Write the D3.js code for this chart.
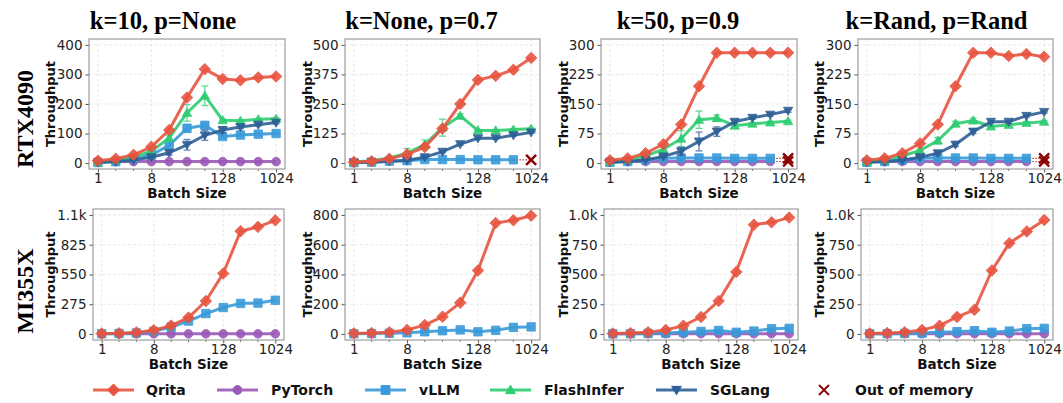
<!DOCTYPE html>
<html><head><meta charset="utf-8">
<script src="https://cdn.jsdelivr.net/npm/d3@7"></script>
<style>body{margin:0;background:#fff;} svg{display:block;}</style>
</head><body>
<svg id="chart" width="1063" height="403"></svg>
<script>
// ---------------- DATA ----------------
const batchSizes = [1, 2, 4, 8, 16, 32, 64, 128, 256, 512, 1024];
const xTickLabels = [1, 8, 128, 1024];
const panelTitles = ["k=10, p=None", "k=None, p=0.7", "k=50, p=0.9", "k=Rand, p=Rand"];
const rowLabels = ["RTX4090", "MI355X"];
const seriesNames = ["Qrita", "PyTorch", "vLLM", "FlashInfer", "SGLang"];
const oomLabel = "Out of memory";
const yTopTicksRTX = [400, 500, 300, 300];
const yTopTicksMI = [1100, 800, 1000, 1000];

// RTX4090 row (null = not run / out of memory)
const rtxQrita = [
  [8, 15, 28, 55, 112, 222, 318, 285, 280, 290, 293],
  [5, 8, 18, 37, 68, 146, 250, 352, 369, 395, 445],
  [7, 12, 25, 48, 98, 195, 280, 280, 280, 280, 280],
  [7, 12, 25, 50, 98, 195, 280, 280, 272, 277, 270]
];
const rtxPyTorch = [
  [5, 5, 5, 5, 5, 5, 5, 5, 5, 5, 5],
  null,
  [4, 4, 4, 4, 4, 4, 4, 4, 4, 4, null],
  [4, 4, 4, 4, 4, 4, 4, 4, 4, 4, null]
];
const rtxVLLM = [
  [2, 5, 15, 28, 60, 118, 128, 90, 95, 98, 100],
  [2, 4, 8, 10, 15, 15, 15, 14, 14, 14, null],
  [2, 4, 8, 12, 13, 13, 13, 12, 12, 12, null],
  [2, 4, 8, 12, 13, 13, 13, 12, 12, 12, null]
];
const rtxFlashInfer = [
  [3, 10, 20, 40, 85, 170, 228, 145, 143, 148, 150],
  [5, 10, 22, 42, 78, 150, 200, 138, 138, 142, 145],
  [3, 8, 18, 35, 62, 110, 114, 95, 100, 103, 106],
  [3, 8, 18, 32, 57, 100, 108, 93, 97, 102, 105]
];
const rtxSGLang = [
  [2, 5, 10, 20, 35, 62, 94, 112, 122, 130, 137],
  [2, 4, 8, 12, 25, 48, 80, 105, 105, 118, 130],
  [2, 4, 8, 17, 30, 55, 80, 105, 115, 123, 133],
  [2, 4, 7, 15, 25, 47, 80, 105, 105, 120, 130]
];
// error bar half-widths
const rtxVLLMErr = [
  [0, 0, 2, 4, 18, 12, 8, 5, 3, 3, 3],
  [0, 0, 0, 0, 1, 1, 1, 1, 1, 1, 0],
  [0, 0, 0, 1, 2, 2, 2, 2, 2, 2, 0],
  [0, 0, 0, 1, 2, 2, 2, 2, 2, 2, 0]
];
const rtxFlashInferErr = [
  [0, 0, 3, 5, 10, 28, 33, 5, 3, 3, 3],
  [0, 0, 2, 20, 20, 36, 8, 3, 3, 3, 3],
  [0, 0, 2, 8, 20, 22, 8, 3, 3, 3, 3],
  [0, 0, 2, 4, 8, 6, 6, 3, 3, 3, 3]
];
const rtxSGLangErr = [
  [0, 0, 1, 3, 8, 18, 17, 10, 5, 4, 4],
  [0, 0, 1, 2, 3, 4, 4, 4, 4, 4, 4],
  [0, 0, 1, 3, 10, 24, 12, 4, 4, 4, 4],
  [0, 0, 1, 2, 4, 5, 5, 3, 3, 3, 3]
];
const rtxOOM = [[], ["vLLM"], ["vLLM", "PyTorch"], ["vLLM", "PyTorch"]];

// MI355X row
const miQrita = [
  [5, 8, 15, 35, 78, 152, 305, 560, 950, 990, 1050],
  [5, 7, 12, 28, 60, 117, 211, 427, 746, 764, 795],
  [5, 8, 15, 35, 70, 143, 278, 522, 918, 938, 978],
  [5, 8, 15, 35, 70, 144, 203, 534, 763, 862, 958]
];
const miPyTorch = [
  [2, 2, 2, 2, 2, 2, 2, 2, 2, 2, 2],
  null,
  [3, 3, 3, 3, 3, 3, 3, 3, 3, 3, 3],
  [3, 3, 3, 3, 3, 3, 3, 3, 3, 3, 3]
];
const miVLLM = [
  [3, 5, 10, 25, 65, 120, 189, 245, 283, 286, 312],
  [2, 3, 5, 8, 15, 22, 28, 15, 25, 45, 48],
  [2, 3, 5, 8, 15, 22, 30, 15, 25, 45, 48],
  [2, 3, 5, 8, 15, 20, 28, 15, 25, 45, 48]
];

// ---------------- STYLE / LAYOUT ----------------
const colors = {
  Qrita: "#e8533f", PyTorch: "#9b59b6", vLLM: "#3a9ad9",
  FlashInfer: "#2ecc71", SGLang: "#2e5f96"
};
const oomColor = "#8b0000";
const drawOrder = ["PyTorch", "vLLM", "FlashInfer", "SGLang", "Qrita"];

const svg = d3.select("#chart");
const boxes = [
  [[89, 285], [345, 540], [601, 797], [858, 1053]],
  [[93, 284], [345, 540], [604, 798], [861, 1053]]
];
const rowTops = [39, 209];
const panelH = [130, 131];
const ylabelX = [50, 307, 563, 819];
const titleOffsets = [-24, -21, -21, -19];

function markerPath(name, s) {
  switch (name) {
    case "Qrita": { const d = s * 1.25; return `M0,${-d}L${d},0L0,${d}L${-d},0Z`; }
    case "PyTorch": return d3.symbol(d3.symbolCircle, Math.PI * s * s)();
    case "vLLM": return `M${-s},${-s}H${s}V${s}H${-s}Z`;
    case "FlashInfer": { const h = s * 1.1; return `M0,${-h}L${h},${h * 0.75}L${-h},${h * 0.75}Z`; }
    case "SGLang": { const h = s * 1.1; return `M0,${h}L${h},${-h * 0.75}L${-h},${-h * 0.75}Z`; }
  }
}
function xPath(s) { return `M${-s},${-s}L${s},${s}M${-s},${s}L${s},${-s}`; }

function fmtTick(v) {
  if (v >= 1000) return (v / 1000).toFixed(1) + "k";
  return String(v);
}

function drawPanel(row, col, seriesData, errData, oomList, yTop) {
  const [bl, br] = boxes[row][col];
  const panelW = br - bl;
  const y0 = rowTops[row], h = panelH[row];
  const g = svg.append("g").attr("transform", `translate(${bl},${y0})`);
  const x = d3.scaleLinear().domain([-0.5, 10.5]).range([0, panelW]);
  const bx = b => x(Math.log2(b));
  const y = d3.scaleLinear().domain([-0.05 * yTop, 1.05 * yTop]).range([h, 0]);
  const yTicks = d3.range(5).map(i => yTop * i / 4);

  // grid
  g.append("g").selectAll("line").data(yTicks).join("line")
    .attr("x1", 0).attr("x2", panelW).attr("y1", d => y(d)).attr("y2", d => y(d))
    .attr("stroke", "#e3e3e3").attr("stroke-width", 0.8).attr("stroke-dasharray", "3,2");
  g.append("g").selectAll("line").data(xTickLabels).join("line")
    .attr("y1", 0).attr("y2", h).attr("x1", d => bx(d)).attr("x2", d => bx(d))
    .attr("stroke", "#e3e3e3").attr("stroke-width", 0.8).attr("stroke-dasharray", "3,2");

  // axes
  const yAxis = d3.axisLeft(y).tickValues(yTicks).tickFormat(fmtTick).tickSize(3.5).tickPadding(3);
  const ya = g.append("g").call(yAxis);
  ya.select(".domain").remove();
  ya.selectAll("line").attr("stroke", "#555");
  ya.selectAll("text").attr("font-family", "DejaVu Sans").attr("font-size", 13.5).attr("fill", "#222");

  const xAxis = d3.axisBottom(x).tickValues(xTickLabels.map(Math.log2))
    .tickFormat(d => String(Math.pow(2, d))).tickSize(3.5).tickPadding(1);
  const xa = g.append("g").attr("transform", `translate(0,${h})`).call(xAxis);
  xa.select(".domain").remove();
  xa.selectAll("line").attr("stroke", "#555");
  xa.selectAll("text").attr("font-family", "DejaVu Sans").attr("font-size", 13.5).attr("fill", "#222");
  const minor = batchSizes.filter(b => !xTickLabels.includes(b));
  g.append("g").selectAll("line").data(minor).join("line")
    .attr("x1", d => bx(d)).attr("x2", d => bx(d)).attr("y1", h).attr("y2", h + 2)
    .attr("stroke", "#555").attr("stroke-width", 0.8);

  // labels
  g.append("text").attr("transform", `translate(${ylabelX[col] - bl},${h / 2}) rotate(-90)`)
    .attr("text-anchor", "middle").attr("dominant-baseline", "central")
    .attr("font-family", "DejaVu Sans").attr("font-weight", "bold").attr("font-size", 13)
    .attr("fill", "#111").text("Throughput");
  g.append("text").attr("x", panelW / 2).attr("y", h + 29)
    .attr("text-anchor", "middle")
    .attr("font-family", "DejaVu Sans").attr("font-weight", "bold").attr("font-size", 13.5)
    .attr("fill", "#111").text("Batch Size");

  // series
  const line = d3.line().defined(d => d.v != null).x(d => bx(d.b)).y(d => y(d.v));
  drawOrder.forEach(name => {
    const vals = seriesData[name];
    if (!vals) return;
    const pts = batchSizes.map((b, i) => ({ b, v: vals[i], e: errData && errData[name] ? errData[name][i] : 0 }));
    const c = colors[name];
    const isOOM = oomList.includes(name);
    const valid = pts.filter(p => p.v != null);
    const last = valid[valid.length - 1];
    if (isOOM) {
      g.append("line").attr("x1", bx(last.b)).attr("x2", bx(1024))
        .attr("y1", y(last.v)).attr("y2", y(last.v))
        .attr("stroke", "#c0392b").attr("stroke-width", 1.2).attr("stroke-dasharray", "1.5,1.5");
    }
    pts.filter(p => p.v != null && p.e > 0).forEach(p => {
      const eg = g.append("g").attr("stroke", c).attr("stroke-width", 1.3).attr("opacity", 0.75);
      eg.append("line").attr("x1", bx(p.b)).attr("x2", bx(p.b)).attr("y1", y(p.v - p.e)).attr("y2", y(p.v + p.e));
      [p.v - p.e, p.v + p.e].forEach(vv => eg.append("line")
        .attr("x1", bx(p.b) - 3.5).attr("x2", bx(p.b) + 3.5).attr("y1", y(vv)).attr("y2", y(vv)));
    });
    g.append("path").datum(pts).attr("d", line).attr("fill", "none")
      .attr("stroke", c).attr("stroke-width", 3).attr("stroke-opacity", 0.9)
      .attr("stroke-linejoin", "round");
    const ms = name === "Qrita" ? 4.6 : (name === "PyTorch" ? 4.3 : 4.2);
    g.append("g").selectAll("path").data(valid).join("path")
      .attr("transform", p => `translate(${bx(p.b)},${y(p.v)})`)
      .attr("d", markerPath(name, ms)).attr("fill", c).attr("fill-opacity", 0.9)
      .attr("stroke", c).attr("stroke-width", 0.8);
    if (isOOM) {
      g.append("path").attr("transform", `translate(${bx(1024)},${y(last.v)})`)
        .attr("d", xPath(5)).attr("stroke", oomColor).attr("stroke-width", 2.4).attr("fill", "none");
    }
  });

  g.append("rect").attr("x", 0).attr("y", 0).attr("width", panelW).attr("height", h)
    .attr("fill", "none").attr("stroke", "#8a8a8a").attr("stroke-width", 1);
}

for (let c = 0; c < 4; c++) {
  drawPanel(0, c, {
    Qrita: rtxQrita[c], PyTorch: rtxPyTorch[c], vLLM: rtxVLLM[c],
    FlashInfer: rtxFlashInfer[c], SGLang: rtxSGLang[c]
  }, {
    vLLM: rtxVLLMErr[c], FlashInfer: rtxFlashInferErr[c], SGLang: rtxSGLangErr[c]
  }, rtxOOM[c], yTopTicksRTX[c]);
  drawPanel(1, c, {
    Qrita: miQrita[c], PyTorch: miPyTorch[c], vLLM: miVLLM[c]
  }, null, [], yTopTicksMI[c]);
}

// titles
panelTitles.forEach((t, c) => {
  const [bl, br] = boxes[0][c];
  svg.append("text").attr("x", (bl + br) / 2 + titleOffsets[c]).attr("y", 29)
    .attr("text-anchor", "middle").attr("font-family", "Liberation Serif")
    .attr("font-weight", "bold").attr("font-size", 24.5).attr("fill", "#000").text(t);
});
// row labels
const rowLabelY = [119, 291];
rowLabels.forEach((t, r) => {
  svg.append("text").attr("transform", `translate(33,${rowLabelY[r]}) rotate(-90)`)
    .attr("text-anchor", "middle").attr("font-family", "Liberation Serif")
    .attr("font-weight", "bold").attr("font-size", 24).attr("fill", "#000").text(t);
});

// legend
const legY = 390;
const legItems = [
  { name: "Qrita", x: 93, tx: 146 },
  { name: "PyTorch", x: 217, tx: 271 },
  { name: "vLLM", x: 365, tx: 419 },
  { name: "FlashInfer", x: 490, tx: 544 },
  { name: "SGLang", x: 656, tx: 710 }
];
const lg = svg.append("g");
legItems.forEach(it => {
  const c = colors[it.name];
  lg.append("line").attr("x1", it.x).attr("x2", it.x + 41).attr("y1", legY).attr("y2", legY)
    .attr("stroke", c).attr("stroke-width", 3).attr("stroke-opacity", 0.9);
  lg.append("path").attr("transform", `translate(${it.x + 20.5},${legY})`)
    .attr("d", markerPath(it.name, it.name === "Qrita" ? 4.8 : 4.4)).attr("fill", c).attr("stroke", c);
  lg.append("text").attr("x", it.tx).attr("y", legY).attr("dominant-baseline", "central")
    .attr("font-family", "DejaVu Sans").attr("font-weight", "bold").attr("font-size", 14)
    .attr("fill", "#111").text(it.name);
});
lg.append("path").attr("transform", `translate(824,${legY})`).attr("d", xPath(5))
  .attr("stroke", oomColor).attr("stroke-width", 1.8).attr("fill", "none");
lg.append("text").attr("x", 855).attr("y", legY).attr("dominant-baseline", "central")
  .attr("font-family", "DejaVu Sans").attr("font-weight", "bold").attr("font-size", 14)
  .attr("fill", "#111").text(oomLabel);
</script></body></html>
